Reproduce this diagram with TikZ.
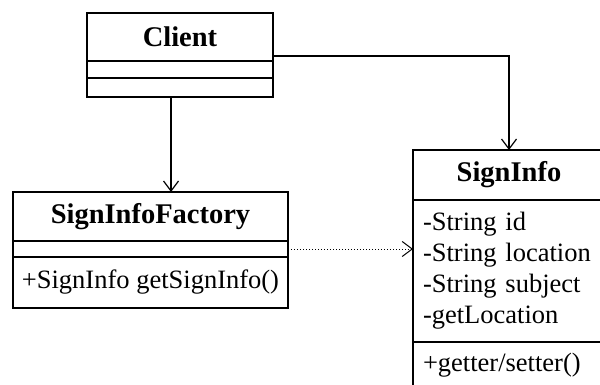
\documentclass[tikz,border=0pt]{standalone}
\usepackage{fontspec}
\setmainfont{Liberation Serif}
\usepackage{tikz}
\usetikzlibrary{arrows.meta}
\newcommand{\umlfont}{\fontsize{26.5}{31}\selectfont}
\newcommand{\umltitlefont}{\fontsize{28.5}{33}\selectfont\bfseries}
\tikzset{
  compart/.style={draw, line width=1.2pt, inner sep=0pt, outer sep=0pt, font=\umlfont},
  clstitle/.style={compart, font=\umltitlefont},
  members/.style={compart, align=left, text width=#1, inner xsep=10pt},
}

\begin{document}
\begin{tikzpicture}[x=1pt, y=-1pt, >={Straight Barb[length=10pt,width=15pt]}, line width=1.2pt]
    \clip (0,0) rectangle (600,385);
    % Client class
    \node[clstitle, minimum width=186pt, minimum height=48pt] (clienthead) at (180,37) {Client};
    \node[compart, minimum width=186pt, minimum height=17pt] (clientattr) at (180,69.5) {};
    \node[compart, minimum width=186pt, minimum height=19pt] (clientops) at (180,87.5) {};
    % SignInfoFactory class
    \node[clstitle, minimum width=275pt, minimum height=49pt] (facthead) at (150.5,216.5) {SignInfoFactory};
    \node[compart, minimum width=275pt, minimum height=16pt] (factattr) at (150.5,249) {};
    \node[compart, minimum width=275pt, minimum height=51pt] (factops) at (150.5,282.5) {+SignInfo getSignInfo()};
    % SignInfo class (runs past the right and bottom edges)
    \node[clstitle, minimum width=192pt, minimum height=50pt] (sihead) at (509,175) {SignInfo};
    \node[members=172pt, minimum width=192pt, minimum height=142pt] (siattr) at (509,271)
        {-String id\\-String location\\-String subject\\-getLocation};
    \node[members=172pt, minimum width=192pt, minimum height=46pt] (siops) at (509,365) {+getter/setter()};
    % connectors
    \coordinate (downx) at (171,0);
    \coordinate (bend) at (509,56);
    \draw[->] (clientops.south -| downx) -- (downx |- facthead.north);
    \draw[->] (bend -| clienthead.east) -- (bend) -- (sihead.north);
    \draw[->, dotted, line width=1pt] (factattr.east) -- (factattr.east -| siattr.west);
\end{tikzpicture}
\end{document}
